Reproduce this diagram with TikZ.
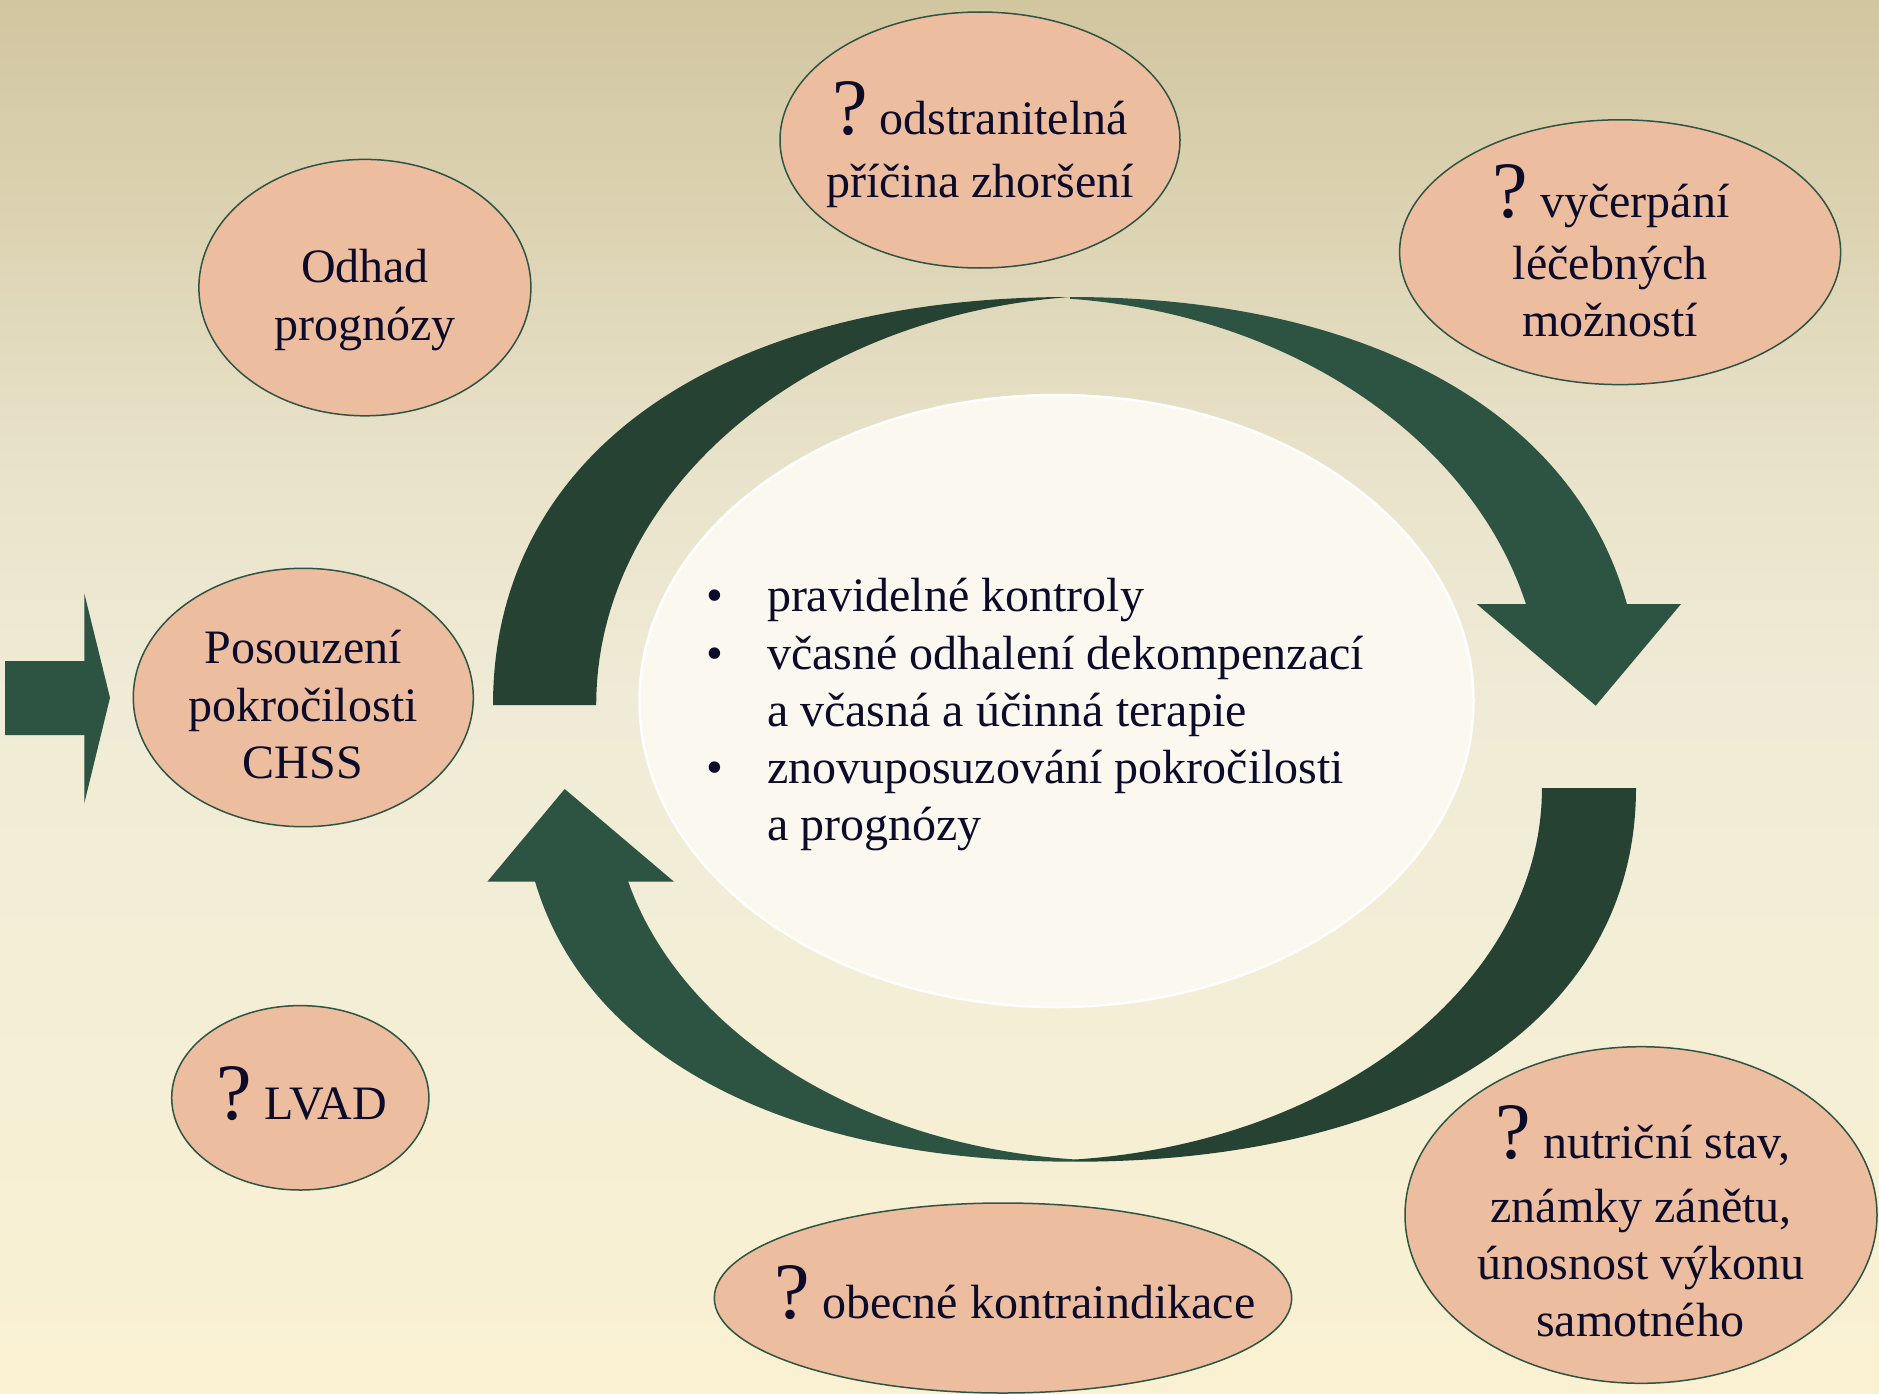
\documentclass[tikz,border=0pt]{standalone}
\usepackage{fontspec}
\setmainfont{Liberation Serif}
\usetikzlibrary{shapes.geometric}
\definecolor{bgtop}{HTML}{D2C6A0}
\definecolor{bgtwo}{HTML}{DDD4B4}
\definecolor{bgthree}{HTML}{E9E3CB}
\definecolor{bgfour}{HTML}{F0EBD6}
\definecolor{bgfive}{HTML}{F3EED6}
\definecolor{bgbot}{HTML}{FAF1D2}
\definecolor{peach}{HTML}{ECBD9F}
\definecolor{edgegreen}{HTML}{2E5443}
\definecolor{darkgreen}{HTML}{254232}
\definecolor{lightgreen}{HTML}{2D5342}
\definecolor{ink}{HTML}{0C0B2A}
\definecolor{centerfill}{HTML}{FAF8EF}
\pgfdeclareverticalshading{bgshade}{100bp}{color(0bp)=(bgbot); color(25bp)=(bgbot); color(40.5bp)=(bgfive); color(50bp)=(bgfour); color(58bp)=(bgthree); color(66.5bp)=(bgtwo); color(75bp)=(bgtop); color(100bp)=(bgtop)}
\newcommand\bigq{{\fontsize{80}{80}\selectfont ?}}
\begin{document}
\begin{tikzpicture}[x=1pt,y=-1pt,
  bubble/.style={ellipse, draw=edgegreen, line width=1.5pt, fill=peach, inner sep=0pt},
  lbl/.style={anchor=base, text=ink, inner sep=0pt, font=\fontsize{48}{57.5}\selectfont},
  lst/.style={lbl, anchor=base west}]
\useasboundingbox (0,0) rectangle (1879,1394);
\shade[shading=bgshade] (0,0) rectangle (1879,1394);

% left block arrow
\fill[lightgreen] (5,661) -- (84.3,661) -- (84.3,593.3) -- (110,697.7) -- (84.3,803.3) -- (84.3,735) -- (5,735) -- cycle;

% top curved arrow
\fill[darkgreen] (493,705) .. controls (493,455) and (716.3,297) .. (1070,297)
  arc[start angle=-95.3, end angle=-180, x radius=522, y radius=410] -- cycle;
\begin{scope}
\clip (1000,250) rectangle (1750,606);
\fill[lightgreen] (1070,297) .. controls (1419.4,297) and (1640,454.9) .. (1640,705)
  -- (1542,705) arc[start angle=0, end angle=-84.7, x radius=520, y radius=408] -- cycle;
\end{scope}
\fill[lightgreen] (1476.7,604) -- (1681,604) -- (1595.7,705.7) -- cycle;

% bottom curved arrow
\fill[darkgreen] (1636,788) .. controls (1636,1017) and (1418.9,1161.7) .. (1075,1161.7)
  -- (1075,1159.5) arc[start angle=84.85, end angle=0, x radius=513, y radius=373] -- cycle;
\begin{scope}
\clip (400,880) rectangle (1150,1250);
\fill[lightgreen] (1075,1161.7) .. controls (736,1161.7) and (522,1017) .. (522,788)
  -- (612,788) arc[start angle=180, end angle=95.18, x radius=509, y radius=373] -- cycle;
\end{scope}
\fill[lightgreen] (487.3,881.7) -- (674,881.7) -- (564.7,789) -- cycle;

% central ellipse
\node[ellipse, draw=white, line width=2.5pt, fill=centerfill, minimum width=834pt, minimum height=612pt, inner sep=0pt] (core) at (1056.5,701) {};

% peach ellipses
\node[bubble, minimum width=332pt, minimum height=256.4pt] (odhad) at (364.9,287.6) {};
\node[bubble, minimum width=400pt, minimum height=256pt] (pricina) at (980,140) {};
\node[bubble, minimum width=441pt, minimum height=264.8pt] (vycerpani) at (1620.1,252.2) {};
\node[bubble, minimum width=340pt, minimum height=258.4pt] (posouzeni) at (303.3,697.5) {};
\node[bubble, minimum width=257.2pt, minimum height=184.4pt] (lvad) at (300.3,1097.8) {};
\node[bubble, minimum width=577.4pt, minimum height=190pt] (obecne) at (1003,1298) {};
\node[bubble, minimum width=472pt, minimum height=336.6pt] (nutricni) at (1641,1215) {};

% texts in ellipses
\node[lbl] (odhadA) at (365,282) {Odhad};
\node[lbl] (odhadB) at (365,340) {prognózy};
\node[lbl] (pricinaA) at (980,135) {\bigq\ odstranitelná};
\node[lbl] (pricinaB) at (980,197) {příčina zhoršení};
\node[lbl] (vycA) at (1611,217) {\bigq\ vyčerpání};
\node[lbl] (vycB) at (1610,279) {léčebných};
\node[lbl] (vycC) at (1610,336) {možností};
\node[lbl] (posA) at (303,663.3) {Posouzení};
\node[lbl] (posB) at (303,721.7) {pokročilosti};
\node[lbl] (posC) at (303,778) {CHSS};
\node[lbl] (lvadA) at (301.7,1119) {\bigq\ LVAD};
\node[lbl] (obecA) at (1015,1318.3) {\bigq\ obecné kontraindikace};
\node[lbl] (nutA) at (1643,1158.3) {\bigq\ nutriční stav,};
\node[lbl] (nutB) at (1641,1222.7) {známky zánětu,};
\node[lbl] (nutC) at (1641,1279.3) {únosnost výkonu};
\node[lbl] (nutD) at (1640,1336.7) {samotného};

% central list
\node[lst] (bulA) at (706,611.2) {•};
\node[lst] (itemA) at (766.8,611.2) {pravidelné kontroly};
\node[lst] (bulB) at (706,669) {•};
\node[lst] (itemB) at (766.8,669) {včasné odhalení dekompenzací};
\node[lst] (itemBb) at (766.8,726.2) {a včasná a účinná terapie};
\node[lst] (bulC) at (706,783.4) {•};
\node[lst] (itemC) at (766.8,783.4) {znovuposuzování pokročilosti};
\node[lst] (itemCb) at (766.8,840.6) {a prognózy};
\end{tikzpicture}
\end{document}
